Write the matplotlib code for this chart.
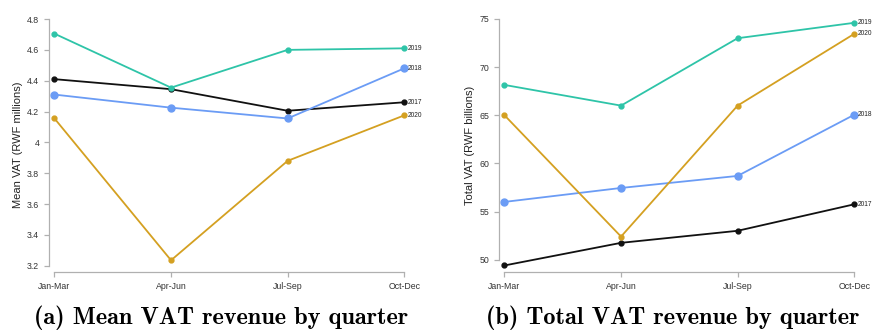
import numpy as np
import matplotlib
matplotlib.use('Agg')
import matplotlib.pyplot as plt

plt.rcParams['font.family'] = ['Liberation Sans', 'DejaVu Sans']

quarters = ['Jan-Mar', 'Apr-Jun', 'Jul-Sep', 'Oct-Dec']
years = ['2017', '2018', '2019', '2020']

# mean VAT per quarter, RWF millions
mean_vat = {
    '2017': [4.41, 4.345, 4.205, 4.26],
    '2018': [4.31, 4.225, 4.155, 4.48],
    '2019': [4.705, 4.355, 4.60, 4.61],
    '2020': [4.155, 3.235, 3.88, 4.175],
}
# total VAT per quarter, RWF billions
total_vat = {
    '2017': [49.4, 51.75, 53.0, 55.75],
    '2018': [56.0, 57.45, 58.7, 65.05],
    '2019': [68.15, 66.0, 73.0, 74.6],
    '2020': [65.0, 52.4, 66.0, 73.45],
}

colors = {'2017': '#111111', '2018': '#6b9cf5', '2019': '#2ec4a8', '2020': '#d4a021'}
msize = {'2017': 3.5, '2018': 5, '2019': 3.5, '2020': 3.5}

fig = plt.figure(figsize=(8.73, 3.33), dpi=100)
W, H = 873, 333


def px_axes(x0, x1, ytop, ybot):
    return fig.add_axes([x0 / W, (H - ybot) / H, (x1 - x0) / W, (ybot - ytop) / H])


def draw(ax, data, ylim, yticks, yticklabels, ylabel):
    x = np.arange(len(quarters))
    for yr in years:
        ax.plot(x, data[yr], color=colors[yr], lw=1.3, marker='o', ms=msize[yr],
                clip_on=False)
        ax.annotate(yr, (x[-1], data[yr][-1]), xytext=(2.2, 0), textcoords='offset points',
                    fontsize=4.8, va='center', ha='left', color='#222222',
                    annotation_clip=False)
    ax.set_xlim(-0.047, 3.05)
    ax.set_ylim(*ylim)
    ax.set_xticks(x)
    ax.set_xticklabels(quarters)
    ax.set_yticks(yticks)
    ax.set_yticklabels(yticklabels)
    ax.spines['top'].set_visible(False)
    ax.spines['right'].set_visible(False)
    for s in ('left', 'bottom'):
        ax.spines[s].set_color('#b0b0b0')
        ax.spines[s].set_linewidth(0.9)
    ax.spines['left'].set_bounds(yticks[0], yticks[-1])
    ax.spines['bottom'].set_bounds(0, 3)
    ax.tick_params(colors='#b0b0b0', labelcolor='#333333', labelsize=6.3, length=3.5,
                   width=0.9)
    ax.set_ylabel(ylabel, fontsize=8, color='#222222', labelpad=3)
    ax.patch.set_visible(False)


ax1 = px_axes(49, 410, 17.5, 272)
yt1 = [3.2, 3.4, 3.6, 3.8, 4.0, 4.2, 4.4, 4.6, 4.8]
draw(ax1, mean_vat, (3.159, 4.81), yt1, ['3.2', '3.4', '3.6', '3.8', '4', '4.2', '4.4', '4.6', '4.8'],
     'Mean VAT (RWF millions)')

ax2 = px_axes(499, 860, 18, 272.3)
yt2 = [50, 55, 60, 65, 70, 75]
draw(ax2, total_vat, (48.69, 75.1), yt2, [str(v) for v in yt2], 'Total VAT (RWF billions)')

fig.text(221 / W, 1 - 318 / H, '(a) Mean VAT revenue by quarter', fontfamily='cmb10',
         fontsize=17.5, ha='center', va='center')
fig.text(673 / W, 1 - 318 / H, '(b) Total VAT revenue by quarter', fontfamily='cmb10',
         fontsize=17.5, ha='center', va='center')

fig.savefig('out.png', dpi=100)
